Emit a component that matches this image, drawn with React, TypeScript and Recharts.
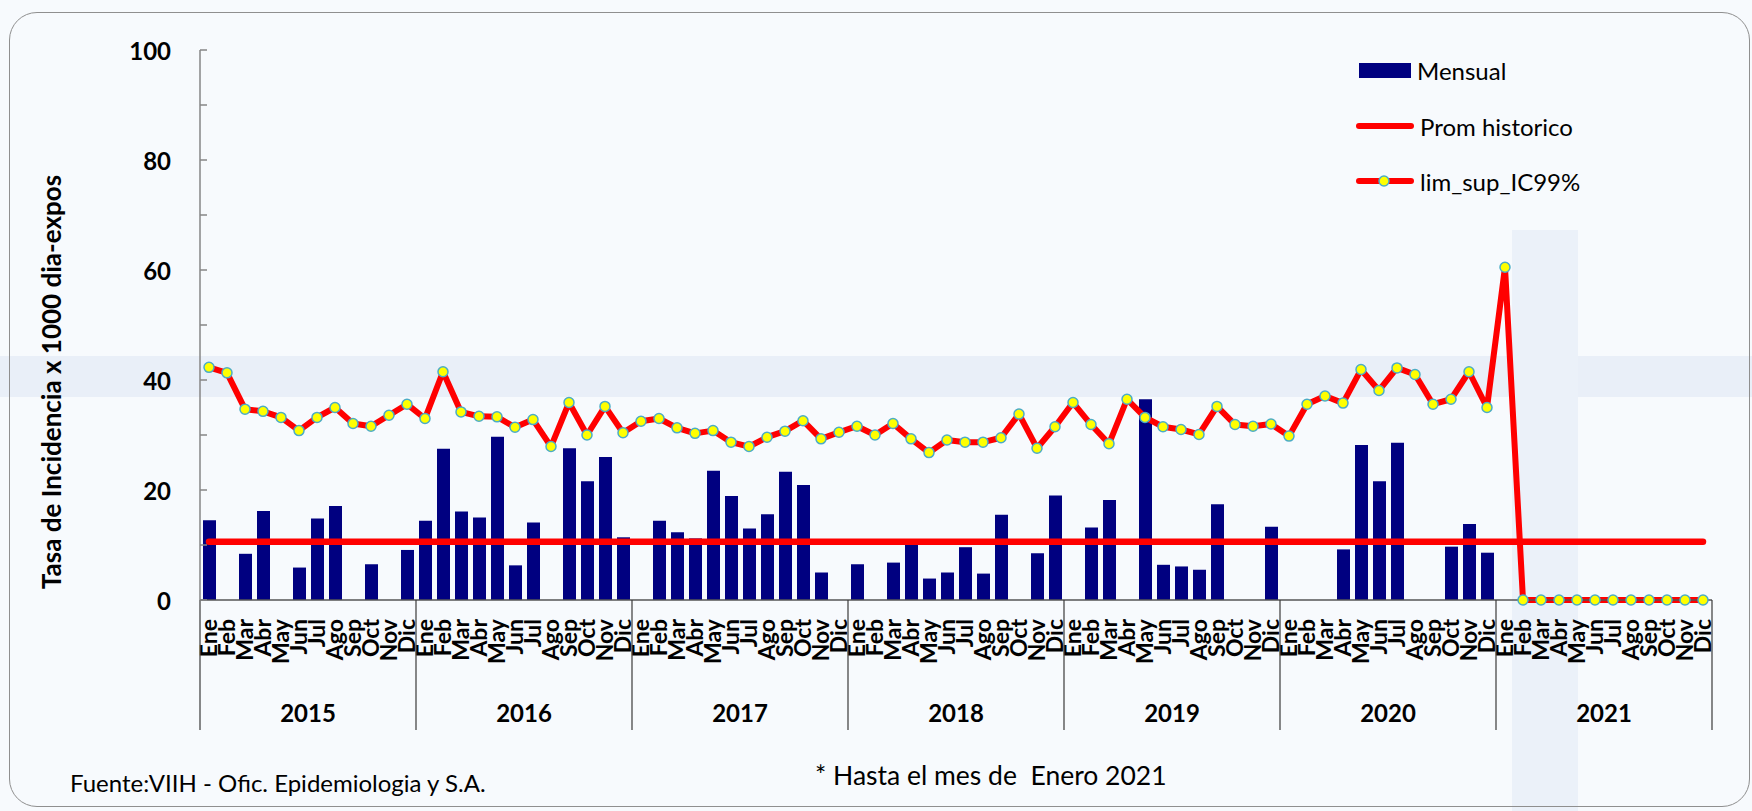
import { ComposedChart, Bar, Line, XAxis, YAxis } from 'recharts';

const years = ['2015', '2016', '2017', '2018', '2019', '2020', '2021'];
const monthNames = ['Ene', 'Feb', 'Mar', 'Abr', 'May', 'Jun', 'Jul', 'Ago', 'Sep', 'Oct', 'Nov', 'Dic'];

// Mensual (barras), null = sin barra
const mensual = [
  14.5, null, 8.4, 16.2, null, 5.9, 14.8, 17.1, null, 6.5, null, 9.1,
  14.4, 27.5, 16.1, 15.0, 29.7, 6.3, 14.1, null, 27.6, 21.6, 26.0, 11.4,
  null, 14.4, 12.3, 11.2, 23.5, 18.9, 13.0, 15.6, 23.3, 20.9, 5.0, null,
  6.5, null, 6.8, 10.3, 3.9, 5.0, 9.6, 4.8, 15.5, null, 8.5, 19.0,
  null, 13.2, 18.2, null, 36.5, 6.4, 6.1, 5.5, 17.4, null, null, 13.3,
  null, null, null, 9.2, 28.2, 21.6, 28.6, null, null, 9.7, 13.8, 8.6,
  null, null, null, null, null, null, null, null, null, null, null, null,
];

const promHistorico = [
  10.6, 10.6, 10.6, 10.6, 10.6, 10.6, 10.6, 10.6, 10.6, 10.6, 10.6, 10.6,
  10.6, 10.6, 10.6, 10.6, 10.6, 10.6, 10.6, 10.6, 10.6, 10.6, 10.6, 10.6,
  10.6, 10.6, 10.6, 10.6, 10.6, 10.6, 10.6, 10.6, 10.6, 10.6, 10.6, 10.6,
  10.6, 10.6, 10.6, 10.6, 10.6, 10.6, 10.6, 10.6, 10.6, 10.6, 10.6, 10.6,
  10.6, 10.6, 10.6, 10.6, 10.6, 10.6, 10.6, 10.6, 10.6, 10.6, 10.6, 10.6,
  10.6, 10.6, 10.6, 10.6, 10.6, 10.6, 10.6, 10.6, 10.6, 10.6, 10.6, 10.6,
  10.6, 10.6, 10.6, 10.6, 10.6, 10.6, 10.6, 10.6, 10.6, 10.6, 10.6, 10.6,
];

const limSupIC99 = [
  42.3, 41.3, 34.7, 34.3, 33.2, 30.8, 33.2, 35.0, 32.1, 31.6, 33.6, 35.6,
  33.0, 41.5, 34.2, 33.4, 33.3, 31.4, 32.8, 27.9, 35.9, 30.0, 35.2, 30.4,
  32.5, 33.0, 31.3, 30.3, 30.8, 28.7, 27.9, 29.6, 30.7, 32.6, 29.3, 30.5,
  31.6, 30.0, 32.1, 29.3, 26.8, 29.1, 28.7, 28.7, 29.5, 33.8, 27.6, 31.5,
  35.9, 31.9, 28.4, 36.5, 33.2, 31.5, 31.0, 30.1, 35.2, 31.9, 31.6, 32.0,
  29.8, 35.6, 37.1, 35.8, 41.9, 38.1, 42.2, 41.0, 35.6, 36.5, 41.5, 35.0,
  60.5, 0, 0, 0, 0, 0, 0, 0, 0, 0, 0, 0,
];

const yTicks = [0, 10, 20, 30, 40, 50, 60, 70, 80, 90, 100];

const data = mensual.map((v, i) => ({
  key: `${years[Math.floor(i / 12)]}-${monthNames[i % 12]}`,
  mes: monthNames[i % 12],
  year: years[Math.floor(i / 12)],
  m: i % 12,
  mensual: v,
  prom: promHistorico[i],
  lim: limSupIC99[i],
}));

const W = 1752;
const H = 811;
const MARGIN = { top: 50, right: 40, bottom: 11, left: 0 };
const Y_AXIS_W = 200;
const X_AXIS_H = 200;
const BAND = (W - MARGIN.left - MARGIN.right - Y_AXIS_W) / data.length;
const FONT = 'Lato, "Liberation Sans", sans-serif';
const GRID = '#868686';

function MonthTick(props: any) {
  const { x, y, index } = props;
  const row = data[index];
  if (!row) return null;
  const half = BAND / 2;
  return (
    <g>
      <text
        transform={`translate(${x},${y + 19}) rotate(-90)`}
        textAnchor="end"
        dy="0.36em"
        fontFamily={FONT}
        fontWeight={700}
        fontSize={23}
        fill="#000"
      >
        {row.mes}
      </text>
      {row.m === 0 && <line x1={x - half} x2={x - half} y1={y} y2={y + 130} stroke="#3a3a3a" strokeWidth={1.2} />}
      {index === data.length - 1 && (
        <line x1={x + half} x2={x + half} y1={y} y2={y + 130} stroke="#3a3a3a" strokeWidth={1.2} />
      )}
      {row.m === 6 && (
        <text x={x - half} y={y + 112} textAnchor="middle" dominantBaseline="central" fontFamily={FONT} fontWeight={700} fontSize={24} fill="#000">
          {row.year}
        </text>
      )}
    </g>
  );
}

function ValueTick(props: any) {
  const { x, y, payload } = props;
  const v = payload.value;
  return (
    <g>
      <line x1={x} x2={x + 7} y1={y} y2={y} stroke={GRID} strokeWidth={1.5} />
      {v % 20 === 0 && (
        <text x={x - 29} y={y} textAnchor="end" dominantBaseline="central" fontFamily={FONT} fontWeight={700} fontSize={24} fill="#000">
          {v}
        </text>
      )}
    </g>
  );
}

function LegendBox() {
  const row: React.CSSProperties = { position: 'absolute', left: 0, display: 'flex', alignItems: 'center', height: 30 };
  const label: React.CSSProperties = { fontFamily: FONT, fontSize: 24, color: '#000', marginLeft: 6, whiteSpace: 'nowrap' };
  return (
    <div style={{ position: 'absolute', left: 1356, top: 55, width: 320, height: 150 }}>
      <div style={{ ...row, top: 0 }}>
        <div style={{ width: 52, height: 15, background: '#000080', marginLeft: 3 }} />
        <span style={label}>Mensual</span>
      </div>
      <div style={{ ...row, top: 56 }}>
        <svg width={58} height={12}>
          <line x1={3} x2={55} y1={6} y2={6} stroke="#FF0000" strokeWidth={6} strokeLinecap="round" />
        </svg>
        <span style={label}>Prom historico</span>
      </div>
      <div style={{ ...row, top: 111 }}>
        <svg width={58} height={14}>
          <line x1={3} x2={55} y1={7} y2={7} stroke="#FF0000" strokeWidth={6} strokeLinecap="round" />
          <circle cx={28} cy={7} r={5} fill="#FFFF00" stroke="#4BACC6" strokeWidth={1.5} />
        </svg>
        <span style={label}>lim_sup_IC99%</span>
      </div>
    </div>
  );
}

export default function App() {
  return (
    <div style={{ position: 'absolute', left: 0, top: 0, width: W, height: H, background: '#F7FAFD', overflow: 'hidden' }}>
      {/* marca de agua, aproximada */}
      <svg width={W} height={H} style={{ position: 'absolute', left: 0, top: 0 }}>
        <rect x={0} y={356} width={W} height={41} fill="#E9EFF8" />
        <rect x={1512} y={230} width={66} height={H - 230} fill="#EBF1F9" />
      </svg>
      <div
        style={{
          position: 'absolute',
          left: 9,
          top: 12,
          width: 1741,
          height: 795,
          border: '1.5px solid #8f8f8f',
          borderRadius: 28,
          boxSizing: 'border-box',
        }}
      />
      <div style={{ position: 'absolute', left: 0, top: 0 }}>
        <ComposedChart width={W} height={H} data={data} margin={MARGIN}>
          <XAxis
            dataKey="key"
            interval={0}
            height={X_AXIS_H}
            tick={<MonthTick />}
            tickLine={false}
            tickSize={0}
            tickMargin={0}
            axisLine={{ stroke: '#555', strokeWidth: 1.5 }}
          />
          <YAxis
            domain={[0, 100]}
            ticks={yTicks}
            interval={0}
            width={Y_AXIS_W}
            tick={<ValueTick />}
            tickLine={false}
            tickSize={0}
            tickMargin={0}
            axisLine={{ stroke: GRID, strokeWidth: 1.5 }}
          />
          <Bar dataKey="mensual" fill="#000080" barSize={13} isAnimationActive={false} />
          <Line
            type="linear"
            dataKey="prom"
            stroke="#FF0000"
            strokeWidth={6.5}
            strokeLinecap="round"
            dot={false}
            activeDot={false}
            isAnimationActive={false}
          />
          <Line
            type="linear"
            dataKey="lim"
            stroke="#FF0000"
            strokeWidth={6}
            strokeLinejoin="round"
            dot={{ r: 5, fill: '#FFFF00', stroke: '#4BACC6', strokeWidth: 1.5 }}
            activeDot={false}
            isAnimationActive={false}
          />
        </ComposedChart>
      </div>
      <div
        style={{
          position: 'absolute',
          left: 51,
          top: 382,
          transform: 'translate(-50%, -50%) rotate(-90deg)',
          fontFamily: FONT,
          fontWeight: 700,
          fontSize: 26,
          whiteSpace: 'nowrap',
          color: '#000',
        }}
      >
        Tasa de Incidencia x 1000 dia-expos
      </div>
      <LegendBox />
      <div style={{ position: 'absolute', left: 70, top: 768, fontFamily: FONT, fontSize: 24, color: '#000', whiteSpace: 'nowrap' }}>
        Fuente:VIIH - Ofic. Epidemiologia y S.A.
      </div>
      <div style={{ position: 'absolute', left: 815, top: 759, fontFamily: FONT, fontSize: 26.5, color: '#000', whiteSpace: 'nowrap' }}>
        * Hasta el mes de&nbsp; Enero 2021
      </div>
    </div>
  );
}
